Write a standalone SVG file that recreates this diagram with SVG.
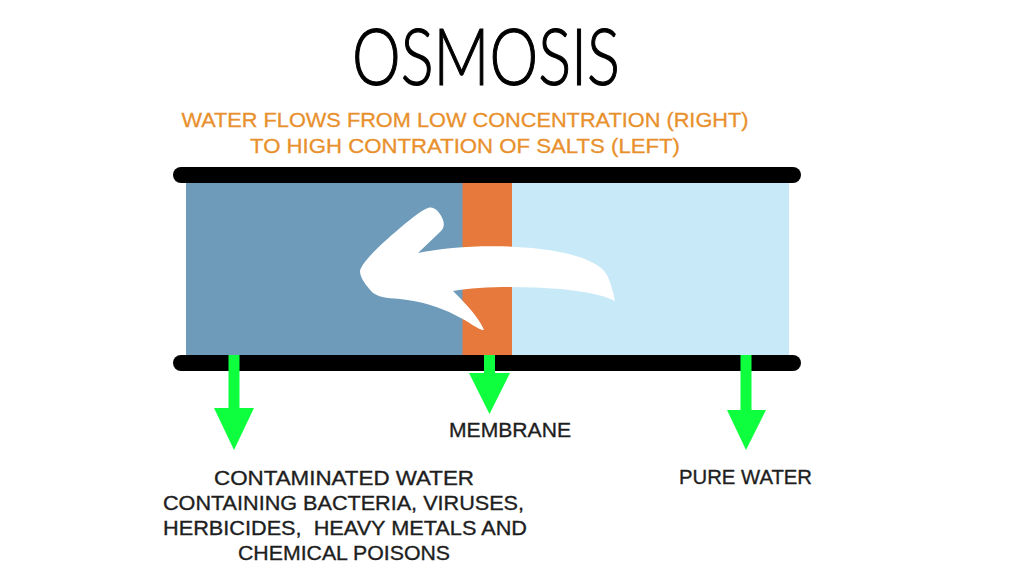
<svg xmlns="http://www.w3.org/2000/svg" width="1024" height="576" viewBox="0 0 1024 576">
  <style>
    .bar { stroke: #000; stroke-width: 16; stroke-linecap: round; fill: none; }
    .lbl { font-family: "Liberation Sans", Arial, sans-serif; font-size: 21px; fill: #1e1e1e; stroke: #1e1e1e; stroke-width: 0.35; text-anchor: middle; }
    .sub { font-family: "Liberation Sans", Arial, sans-serif; font-size: 21px; fill: #e8902c; stroke: #e8902c; stroke-width: 0.3; text-anchor: middle; }
    .green { fill: #0dff3e; }
  </style>
  <rect width="1024" height="576" fill="#ffffff"/>
  <g id="title">
    <text x="486" y="85" font-family="Lato, 'DejaVu Sans', sans-serif" font-weight="300" font-size="79" fill="#000" stroke="#000" stroke-width="1.2" textLength="268" lengthAdjust="spacingAndGlyphs" text-anchor="middle">OSMOSIS</text>
  </g>
  <g id="subtitle">
    <text class="sub" x="465" y="127" textLength="567" lengthAdjust="spacingAndGlyphs">WATER FLOWS FROM LOW CONCENTRATION (RIGHT)</text>
    <text class="sub" x="465" y="153" textLength="430" lengthAdjust="spacingAndGlyphs">TO HIGH CONTRATION OF SALTS (LEFT)</text>
  </g>
  <g id="contaminated-side">
    <rect x="186" y="183" width="277" height="172" fill="#6f9bba"/>
  </g>
  <g id="pure-side">
    <rect x="512" y="183" width="277" height="172" fill="#c8eaf8"/>
  </g>
  <g id="membrane">
    <rect x="462.5" y="183" width="49.5" height="172" fill="#e6793b"/>
  </g>
  <g id="walls">
    <line class="bar" x1="181" y1="175" x2="793" y2="175"/>
    <line class="bar" x1="181" y1="363" x2="793" y2="363"/>
  </g>
  <g id="flow-arrow">
    <path fill="#ffffff" d="M 360,271 C 362,262 380,245 400,228 C 412,218 422,210 428,208 C 434,206 440,212 443,220 C 445,226 443,229 440,232 L 418,253 C 450,246 500,244 540,249 C 575,253 600,262 607,275 C 611,283 613,292 615,301 C 605,296 590,292 560,289 C 525,286 480,286 453,291 C 465,303 478,316 484,330 C 478,330 470,322 455,315 C 440,307 420,301 400,299 C 385,298 378,297 372,292 C 366,285 360,278 360,271 Z"/>
  </g>
  <g id="connectors">
    <rect class="green" x="228.5" y="355" width="11" height="55"/>
    <polygon class="green" points="214,408 254,408 234,450"/>
    <rect class="green" x="484" y="355" width="11" height="20"/>
    <polygon class="green" points="469,373 510,373 489.5,414"/>
    <rect class="green" x="740.5" y="355" width="11" height="57"/>
    <polygon class="green" points="727,410 766,410 746,450"/>
  </g>
  <g id="label-membrane">
    <text class="lbl" x="510" y="437" textLength="122" lengthAdjust="spacingAndGlyphs">MEMBRANE</text>
  </g>
  <g id="label-pure">
    <text class="lbl" x="745.5" y="484" textLength="133" lengthAdjust="spacingAndGlyphs">PURE WATER</text>
  </g>
  <g id="label-contaminated">
    <text class="lbl" x="344" y="485" textLength="260" lengthAdjust="spacingAndGlyphs">CONTAMINATED WATER</text>
    <text class="lbl" x="343.5" y="510" textLength="361" lengthAdjust="spacingAndGlyphs">CONTAINING BACTERIA, VIRUSES,</text>
    <text class="lbl" x="345" y="535" textLength="364" lengthAdjust="spacingAndGlyphs" xml:space="preserve">HERBICIDES,  HEAVY METALS AND</text>
    <text class="lbl" x="344" y="560" textLength="212" lengthAdjust="spacingAndGlyphs">CHEMICAL POISONS</text>
  </g>
</svg>
